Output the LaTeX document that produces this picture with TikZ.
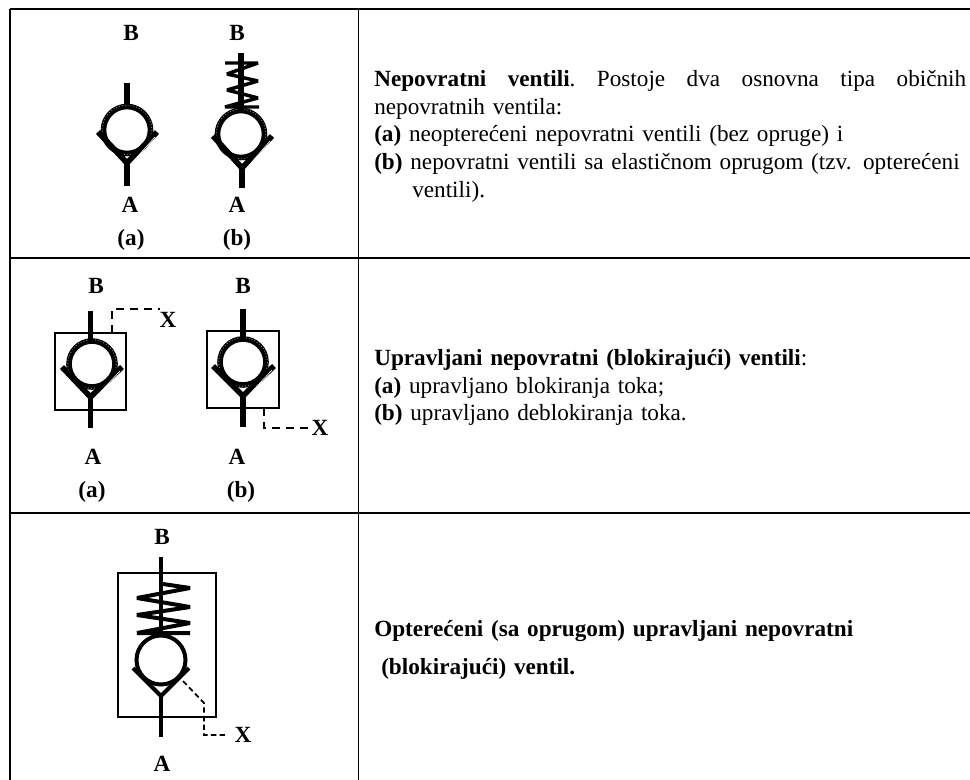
\documentclass[tikz,border=0pt]{standalone}
\usepackage{fontspec}
\setmainfont{Liberation Serif}
\newcommand{\valve}[4]{% cx, cy, r, name: heavy ball of a check valve
  \coordinate (#4c) at (#1,#2);
  \draw[heavy] (#4c) circle (#3);
  \draw[speck] (#4c) circle (#3+1.3);
}
\tikzset{
  heavy/.style={line width=4.2pt,black},
  speck/.style={line width=0.7pt,black!45,dash pattern=on 0.6pt off 1.6pt},
  clean/.style={line width=3pt,black},
  spring/.style={line width=2.6pt,black,line join=bevel},
  hairw/.style={white,line width=.5pt},
  frame/.style={line width=1.3pt,black},
  boxline/.style={line width=1.5pt,black},
  ctrl/.style={line width=1.2pt,black,dash pattern=on 6pt off 4.5pt},
  ctrlb/.style={line width=1.3pt,black,dash pattern=on 4pt off 2.5pt},
  lab/.style={font=\fontsize{17.4pt}{20.8pt}\selectfont\bfseries,inner sep=0pt},
  body/.style={font=\fontsize{17.4pt}{20.8pt}\selectfont,inner sep=0pt,anchor=north west,align=left,text width=444pt},
}
\begin{document}
\begin{tikzpicture}[x=0.75pt,y=-0.75pt]
\useasboundingbox (0,0) rectangle (970,780);
\fill[white] (0,0) rectangle (970,780);
% table
\coordinate (tl) at (10,9); \coordinate (tr) at (970,9);
\coordinate (bl) at (10,780);
\draw[frame] (tl) -- (tr) (tl) -- (bl) (358.5,9) -- (358.5,780);
\draw[frame] (10,258) -- (970,258) (10,513) -- (970,513);
% row 1 a
\node[lab] (b1) at (131,33) {B};
\node[lab] (a1) at (130,205) {A};
\node[lab] (c1) at (131,240) {(a)};
\valve{127}{130}{23.5}{v1}
\coordinate (v1l) at (98,132); \coordinate (v1r) at (157,132); \coordinate (v1a) at (127,163);
\draw[heavy] (v1l) -- (v1a) -- (v1r);
\draw[heavy] (127,83) -- (127,105) (v1a) -- (127,186);
\draw[hairw] (130,165) -- (155,137);
% row 1 b
\node[lab] (b2) at (237,33) {B};
\node[lab] (a2) at (237,205) {A};
\node[lab] (c2) at (237,240) {(b)};
\valve{241}{134}{23.5}{v2}
\coordinate (v2l) at (213,136); \coordinate (v2r) at (272,136); \coordinate (v2a) at (242,168);
\draw[heavy] (v2l) -- (v2a) -- (v2r);
\draw[heavy] (241,53) -- (241,111) (v2a) -- (242,188);
\draw[hairw] (245,170) -- (270,141);
\draw[spring] (225,63) -- (258,63) -- (227,74) -- (258,81) -- (227,90) -- (258,98) -- (225,107) -- (259,107);
% row 2 a
\node[lab] (b3) at (96,286) {B};
\node[lab] (a3) at (93,457) {A};
\node[lab] (c3) at (92,492) {(a)};
\node[lab] (x3) at (168,320) {X};
\coordinate (r3a) at (55,333); \coordinate (r3b) at (126,410);
\draw[boxline] (r3a) rectangle (r3b);
\valve{92}{364}{23}{v3}
\coordinate (v3l) at (62,367); \coordinate (v3r) at (122,367); \coordinate (v3a) at (90.5,397);
\draw[heavy] (v3l) -- (v3a) -- (v3r);
\draw[heavy] (90.5,311) -- (90.5,341) (v3a) -- (90.5,428);
\draw[hairw] (94,399) -- (120,371);
\coordinate (d3) at (112,333);
\draw[ctrl] (d3) -- (112,309) -- (160,309);
% row 2 b
\node[lab] (b4) at (243,286) {B};
\node[lab] (a4) at (237,457) {A};
\node[lab] (c4) at (241,492) {(b)};
\node[lab] (x4) at (320,428) {X};
\coordinate (r4a) at (207,331); \coordinate (r4b) at (279,408);
\draw[boxline] (r4a) rectangle (r4b);
\valve{243}{362}{23}{v4}
\coordinate (v4l) at (213,366); \coordinate (v4r) at (274,366); \coordinate (v4a) at (243,396);
\draw[heavy] (v4l) -- (v4a) -- (v4r);
\draw[heavy] (243,309) -- (243,340) (v4a) -- (243,427);
\draw[hairw] (246,398) -- (272,370);
\coordinate (d4) at (264,408);
\draw[ctrl] (d4) -- (264,428) -- (312,428);
% row 3
\node[lab] (b5) at (162,537) {B};
\node[lab] (a5) at (162,764) {A};
\node[lab] (x5) at (243,735) {X};
\coordinate (r5a) at (118,573); \coordinate (r5b) at (216,717);
\draw[boxline] (r5a) rectangle (r5b);
\coordinate (v5c) at (161,660);
\draw[clean] (v5c) circle (24.5);
\coordinate (v5l) at (133,668); \coordinate (v5r) at (189,668); \coordinate (v5a) at (161,696);
\draw[clean] (v5l) -- (v5a) -- (v5r);
\draw[clean] (161,557) -- (161,636) (v5a) -- (161,737);
\draw[spring,line width=3pt] (163,584) -- (190,588) -- (137,598) -- (190,607) -- (137,615) -- (190,623) -- (137,633) -- (190,633);
\coordinate (d5) at (183,681);
\draw[ctrlb] (d5) -- (204,703) -- (204,735) -- (227,735);
% texts
\node[body] (t1) at (374,70) {\textbf{Nepovratni\hspace{\fill}ventili}.\hspace{\fill}Postoje\hspace{\fill}dva\hspace{\fill}osnovna\hspace{\fill}tipa\hspace{\fill}običnih\\nepovratnih ventila:\\\textbf{(a)} neopterećeni nepovratni ventili (bez opruge) i\\\textbf{(b)} nepovratni ventili sa elastičnom oprugom (tzv. opterećeni\\\hspace*{28.5pt}ventili).};
\node[body] (t2) at (374,349) {\textbf{Upravljani nepovratni (blokirajući) ventili}:\\\textbf{(a)} upravljano blokiranja toka;\\\textbf{(b)} upravljano deblokiranja toka.};
\node[body,font=\fontsize{17.4pt}{28.5pt}\selectfont\bfseries] (t3) at (374,620) {Opterećeni (sa oprugom) upravljani nepovratni\\\hspace*{5.25pt}(blokirajući) ventil.};
\end{tikzpicture}
\end{document}
